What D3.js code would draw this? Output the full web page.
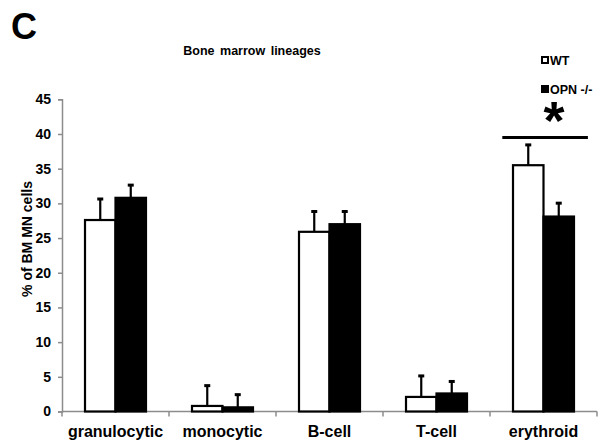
<!DOCTYPE html>
<html>
<head>
<meta charset="utf-8">
<script src="https://cdn.jsdelivr.net/npm/d3@7"></script>
<style>
  body { margin: 0; background: #fff; }
  svg { display: block; font-family: "Liberation Sans", Arial, sans-serif; font-weight: bold; }
</style>
</head>
<body>
<div id="chart"></div>
<script>
// data
var lineages = ["granulocytic", "monocytic", "B-cell", "T-cell", "erythroid"];
var groups = ["WT", "OPN -/-"];
var wtMean  = [27.6, 0.8, 25.9, 2.1, 35.5];
var wtErr   = [3.1, 3.0, 3.0, 3.1, 3.0];
var opnMean = [30.8, 0.6, 27.0, 2.6, 28.1];
var opnErr  = [1.9, 1.9, 1.9, 1.8, 2.0];
var yTicks = [0, 5, 10, 15, 20, 25, 30, 35, 40, 45];
var sigLineage = "erythroid", sigLevel = 39.5;

var W = 602, H = 443;
var margin = {l: 62, r: 5, t: 99.3, b: 31.5};

var svg = d3.select("#chart").append("svg")
  .attr("width", W).attr("height", H)
  .attr("viewBox", "0 0 " + W + " " + H);

var X = d3.scaleBand().domain(lineages)
  .range([margin.l, W - margin.r])
  .paddingInner(0.43).paddingOuter(0.215);
var X1 = d3.scaleBand().domain(groups).range([0, X.bandwidth()]);
var Y = d3.scaleLinear().domain([0, 45]).range([H - margin.b, margin.t]);

var rows = [];
lineages.forEach(function(c, i){
  rows.push({cat: c, g: "WT", v: wtMean[i], e: wtErr[i]});
  rows.push({cat: c, g: "OPN -/-", v: opnMean[i], e: opnErr[i]});
});
var fill = {"WT": "#fff", "OPN -/-": "#000"};

// y axis
var yAxis = d3.axisLeft(Y).tickValues(yTicks).tickSize(4).tickPadding(7);
var ya = svg.append("g").attr("transform", "translate(" + margin.l + ",0)").call(yAxis);
ya.select(".domain").attr("stroke", "#8c8c8c").attr("stroke-width", 1.5);
ya.selectAll(".tick line").attr("stroke", "#8c8c8c").attr("stroke-width", 1.5);
ya.selectAll(".tick text").attr("fill", "#000").style("font-size", "14px")
  .style("font-family", "'Liberation Sans', Arial, sans-serif").style("font-weight", "bold");

// x axis line with ticks on band boundaries
var step = X.step();
var bounds = d3.range(lineages.length + 1).map(function(i){ return margin.l + i * step; });
svg.append("line").attr("x1", margin.l).attr("x2", W - margin.r)
  .attr("y1", Y(0)).attr("y2", Y(0)).attr("stroke", "#8c8c8c").attr("stroke-width", 1.5);
svg.selectAll(".xtick").data(bounds).enter().append("line").attr("class", "xtick")
  .attr("x1", function(d){ return d; }).attr("x2", function(d){ return d; })
  .attr("y1", Y(0)).attr("y2", Y(0) + 5).attr("stroke", "#8c8c8c").attr("stroke-width", 1.5);

svg.selectAll(".xlab").data(lineages).enter().append("text").attr("class", "xlab")
  .attr("x", function(d){ return X(d) + X.bandwidth() / 2; })
  .attr("y", 437).attr("text-anchor", "middle")
  .style("font-size", "16px").text(function(d){ return d; });

// error bars (upper only)
var eb = svg.selectAll(".err").data(rows).enter().append("g").attr("class", "err");
eb.append("line")
  .attr("x1", function(d){ return X(d.cat) + X1(d.g) + X1.bandwidth() / 2; })
  .attr("x2", function(d){ return X(d.cat) + X1(d.g) + X1.bandwidth() / 2; })
  .attr("y1", function(d){ return Y(d.v); })
  .attr("y2", function(d){ return Y(d.v + d.e); })
  .attr("stroke", "#000").attr("stroke-width", 2.2);
eb.append("rect")
  .attr("x", function(d){ return X(d.cat) + X1(d.g) + X1.bandwidth() / 2 - 3; })
  .attr("y", function(d){ return Y(d.v + d.e) - 1; })
  .attr("width", 6).attr("height", 3).attr("fill", "#000");

// bars
svg.selectAll(".bar").data(rows).enter().append("rect").attr("class", "bar")
  .attr("x", function(d){ return X(d.cat) + X1(d.g); })
  .attr("y", function(d){ return Y(d.v); })
  .attr("width", X1.bandwidth())
  .attr("height", function(d){ return Y(0) - Y(d.v); })
  .attr("fill", function(d){ return fill[d.g]; })
  .attr("stroke", "#000").attr("stroke-width", 2.2);

// significance
var sx = X(sigLineage);
svg.append("line")
  .attr("x1", sx - 0.1 * step).attr("x2", sx + X.bandwidth() + 0.13 * step)
  .attr("y1", Y(sigLevel)).attr("y2", Y(sigLevel))
  .attr("stroke", "#000").attr("stroke-width", 3);
svg.append("text").attr("x", 554).attr("y", 139).attr("text-anchor", "middle")
  .style("font-size", "54px").text("*");

// titles
svg.append("text").attr("x", 11).attr("y", 39).style("font-size", "36px").text("C");
svg.append("text").attr("x", 252).attr("y", 55).attr("text-anchor", "middle")
  .style("font-size", "12.5px").style("word-spacing", "2px").text("Bone marrow lineages");
svg.append("text").attr("transform", "translate(32,239) rotate(-90)")
  .attr("text-anchor", "middle").style("font-size", "14px").text("% of BM MN cells");

// legend
var leg = svg.selectAll(".leg").data(groups).enter().append("g").attr("class", "leg")
  .attr("transform", function(d, i){ return "translate(542," + (57 + i * 29) + ")"; });
leg.append("rect").attr("width", 6).attr("height", 6)
  .attr("fill", function(d){ return fill[d]; }).attr("stroke", "#000").attr("stroke-width", 2);
leg.append("text").attr("x", 8).attr("y", 7.5).style("font-size", "12.5px")
  .text(function(d){ return d; });
</script>
</body>
</html>
